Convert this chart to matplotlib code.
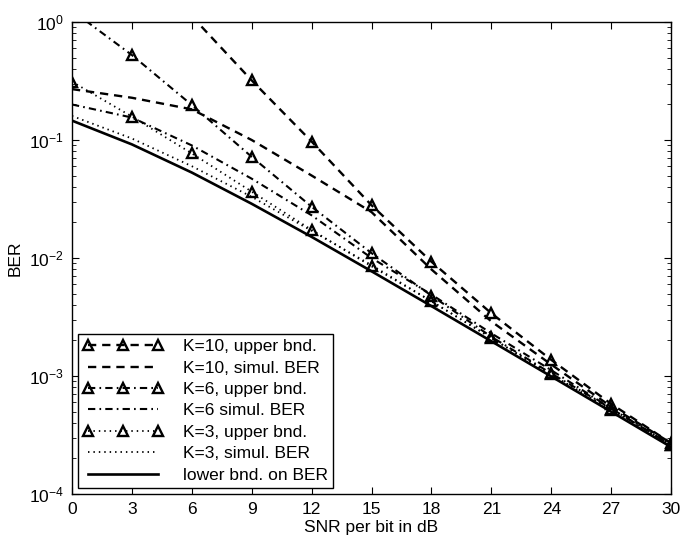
import numpy as np
import matplotlib
matplotlib.use("Agg")
import matplotlib.pyplot as plt

plt.rcParams['font.family'] = ['Liberation Sans', 'DejaVu Sans']
plt.rcParams['mathtext.fontset'] = 'custom'
plt.rcParams['mathtext.rm'] = 'Liberation Sans'

# SNR per bit (dB)
snr = [0, 3, 6, 9, 12, 15, 18, 21, 24, 27, 30]

# values (BER)
k10_upper = [np.nan, np.nan, 1.12, 0.32, 0.097, 0.028, 0.0093, 0.0034, 0.00137, 0.00058, 0.00027]
k10_sim = [0.27, 0.228, 0.182, 0.100, 0.050, 0.0245, 0.0080, 0.0029, 0.00125, 0.00055, 0.00027]
k6_upper = [1.25, 0.525, 0.198, 0.072, 0.0272, 0.011, 0.0048, 0.00215, 0.00105, 0.00053, 0.00026]
k6_sim = [0.20, 0.155, 0.090, 0.047, 0.023, 0.0100, 0.0049, 0.0023, 0.00112, 0.00053, 0.00026]
k3_upper = [0.312, 0.158, 0.077, 0.0365, 0.0173, 0.0085, 0.0043, 0.0021, 0.00103, 0.00052, 0.00026]
k3_sim = [0.160, 0.103, 0.060, 0.033, 0.0170, 0.0087, 0.0043, 0.0021, 0.00102, 0.00051, 0.00025]
lower = [0.146, 0.0918, 0.0530, 0.0288, 0.0151, 0.00772, 0.00391, 0.00197, 0.000991, 0.000498, 0.00025]

fig = plt.figure(figsize=(6.94, 5.38), dpi=100)
ax = fig.add_axes([0.1037, 0.0818, 0.8633, 0.8773])

mk = dict(marker='^', markersize=7.5, markerfacecolor='none', markeredgecolor='k', markeredgewidth=1.7)
dash = (0, (3.5, 2.5))
dashdot = (0, (3.5, 2.0, 0.8, 2.0))
dot = (0, (0.8, 2.2))

ax.semilogy(snr, k10_upper, color='k', lw=1.7, ls=dash, label='K=10, upper bnd.', **mk)
ax.semilogy(snr, k10_sim, color='k', lw=1.7, ls=dash, label='K=10, simul. BER')
ax.semilogy(snr, k6_upper, color='k', lw=1.5, ls=dashdot, label='K=6, upper bnd.', **mk)
ax.semilogy(snr, k6_sim, color='k', lw=1.5, ls=dashdot, label='K=6 simul. BER')
ax.semilogy(snr, k3_upper, color='k', lw=1.3, ls=dot, label='K=3, upper bnd.', **mk)
ax.semilogy(snr, k3_sim, color='k', lw=1.3, ls=dot, label='K=3, simul. BER')
ax.semilogy(snr, lower, color='k', lw=1.9, ls='-', label='lower bnd. on BER')

ax.set_xlim(0, 30)
ax.set_ylim(1e-4, 1)
ax.set_xticks(snr)
ax.set_yticks([1e-4, 1e-3, 1e-2, 1e-1, 1])
ax.tick_params(which='both', direction='in', top=True, right=True, labelsize=12.5)
ax.tick_params(which='major', length=5, width=0.8, pad=6)
ax.tick_params(which='minor', length=3, width=0.6)
for s in ax.spines.values():
    s.set_linewidth(1.0)

ax.set_xlabel('SNR per bit in dB', fontsize=12.5, labelpad=2)
ax.set_ylabel('BER', fontsize=12.5, labelpad=4)

leg = ax.legend(loc='lower left', fontsize=12.5, numpoints=3, handlelength=4.6,
                fancybox=False, framealpha=1, edgecolor='k', borderaxespad=0.35,
                labelspacing=0.36, handletextpad=1.15, borderpad=0.3)
leg.get_frame().set_linewidth(1.0)

plt.savefig('out.png', dpi=100)
